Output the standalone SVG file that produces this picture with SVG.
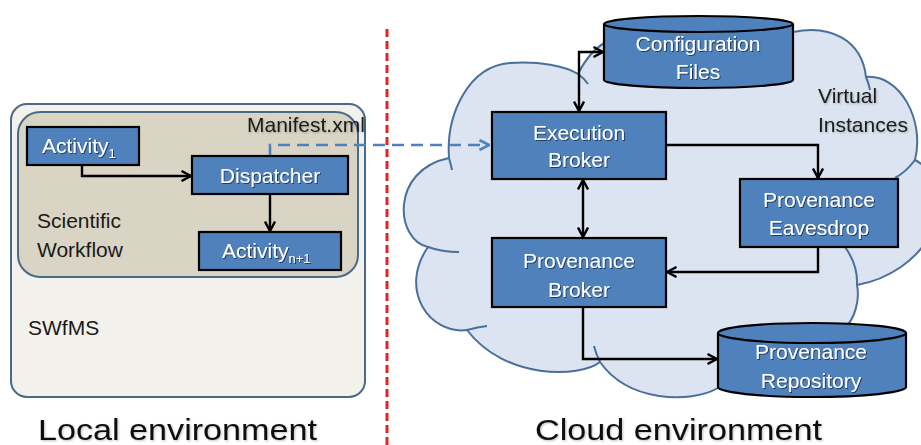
<svg xmlns="http://www.w3.org/2000/svg" width="921" height="445" viewBox="0 0 921 445">
  <defs>
    <style>
      .box { fill: #4f81bd; stroke: #000; stroke-width: 2.2; }
      .cyl { fill: #4f81bd; stroke: #000; stroke-width: 2.2; }
      .wt { font-family: "Liberation Sans", Arial, sans-serif; font-size: 21px; fill: #fff; text-anchor: middle; filter: url(#shadow); }
      .bt { font-family: "Liberation Sans", Arial, sans-serif; font-size: 21px; fill: #1a1a1a; }
      .big { font-family: "Liberation Sans", Arial, sans-serif; font-size: 29px; fill: #111; }
      .conn { fill: none; stroke: #000; stroke-width: 2.4; }
      .dash { fill: none; stroke: #4f81bd; stroke-width: 2.6; stroke-dasharray: 12 7; }
      .cloud-in { fill: none; stroke: #4a6f9b; stroke-width: 2; }
    </style>
    <filter id="shadow" x="-10%" y="-20%" width="130%" height="150%">
      <feDropShadow dx="1" dy="1" stdDeviation="0.7" flood-color="#000" flood-opacity="0.55"/>
    </filter>
    <filter id="soft" x="-10%" y="-20%" width="130%" height="150%">
      <feDropShadow dx="1" dy="1" stdDeviation="0.8" flood-color="#000" flood-opacity="0.25"/>
    </filter>
    <marker id="arr" viewBox="0 0 12 12" refX="11" refY="6" markerWidth="12" markerHeight="12" markerUnits="userSpaceOnUse" orient="auto-start-reverse">
      <path d="M1.5,1 L11,6 L1.5,11" fill="none" stroke="#000" stroke-width="2.4"/>
    </marker>
    <marker id="arrBlue" viewBox="0 0 12 12" refX="11" refY="6" markerWidth="12" markerHeight="12" markerUnits="userSpaceOnUse" orient="auto">
      <path d="M1.5,1 L11,6 L1.5,11" fill="none" stroke="#4f81bd" stroke-width="2.6"/>
    </marker>
  </defs>

  <rect width="921" height="445" fill="#fff"/>

  <!-- cloud hosting the virtual instances -->
  <g id="cloud">
    <path d="M449,158 C446,115 468,66 510,63 C540,61 565,66 578,74 C585,60 595,48 606,42 L793,32 C830,24 862,40 866,77 C900,74 925,120 915,160 C925,165 935,175 935,200 L935,225 C920,262 885,280 857,285 C860,300 855,318 845,328 L718,388 C690,404 628,402 600,362 C580,378 505,380 467,330 C430,335 398,290 428,247 C395,240 390,170 449,158 Z" fill="#dbe4f0" stroke="#4a6f9b" stroke-width="2"/>
    <path class="cloud-in" d="M449,158 Q451,165 452,170"/>
    <path class="cloud-in" d="M578,74 Q584,78 588,84"/>
    <path class="cloud-in" d="M428,247 Q442,252 459,252"/>
    <path class="cloud-in" d="M467,330 Q478,327 487,326"/>
    <path class="cloud-in" d="M600,362 Q596,354 594,346"/>
    <path class="cloud-in" d="M857,285 Q858,265 845,247"/>
    <path class="cloud-in" d="M866,77 Q869,84 870,90"/>
    <path class="cloud-in" d="M915,160 Q906,172 895,178"/>
    <text class="bt" x="818" y="103" filter="url(#soft)">Virtual</text>
    <text class="bt" x="818" y="132" filter="url(#soft)">Instances</text>
  </g>

  <!-- local SWfMS container -->
  <g id="swfms">
    <rect x="11" y="104" width="354" height="293" rx="16" fill="#f3f1ec" stroke="#4a6a8a" stroke-width="2"/>
    <text class="bt" x="28" y="335">SWfMS</text>
  </g>
  <g id="workflow">
    <rect x="18" y="112" width="340" height="165" rx="22" fill="#d9d4c3" stroke="#4a6a8a" stroke-width="2"/>
    <text class="bt" x="37" y="228">Scientific</text>
    <text class="bt" x="37" y="257">Workflow</text>
  </g>

  <!-- environment divider -->
  <line x1="387" y1="29" x2="387" y2="445" stroke="#e0262a" stroke-width="3" stroke-dasharray="8 4"/>

  <!-- connectors -->
  <g id="connectors">
    <path class="conn" d="M82,165 V176 H191" marker-end="url(#arr)"/>
    <path class="conn" d="M270,194 V231" marker-end="url(#arr)"/>
    <path class="dash" d="M270,156 V145 H489" marker-end="url(#arrBlue)"/>
    <path class="conn" d="M579,111 V52 H603" marker-start="url(#arr)" marker-end="url(#arr)"/>
    <path class="conn" d="M666,145 H818 V178" marker-end="url(#arr)"/>
    <path class="conn" d="M583,180 V237" marker-start="url(#arr)" marker-end="url(#arr)"/>
    <path class="conn" d="M818,247 V272 H667" marker-end="url(#arr)"/>
    <path class="conn" d="M583,307 V359 H717" marker-end="url(#arr)"/>
  </g>

  <text class="bt" x="247" y="132" filter="url(#soft)">Manifest.xml</text>

  <g id="activity1">
    <rect class="box" x="27" y="127" width="112" height="38"/>
    <text class="wt" x="42" y="153" style="text-anchor:start">Activity<tspan font-size="13" dy="5">1</tspan></text>
  </g>
  <g id="dispatcher">
    <rect class="box" x="192" y="156" width="156" height="38"/>
    <text class="wt" x="270" y="183">Dispatcher</text>
  </g>
  <g id="activityN1">
    <rect class="box" x="199" y="232" width="142" height="38"/>
    <text class="wt" x="222" y="258" style="text-anchor:start">Activity<tspan font-size="13" dy="5">n+1</tspan></text>
  </g>

  <g id="configFiles">
    <path class="cyl" d="M604,24 V80 A94.5,8 0 0 0 793,80 V24"/>
    <ellipse class="cyl" cx="698.5" cy="24" rx="94.5" ry="8"/>
    <text class="wt" x="698" y="51">Configuration</text>
    <text class="wt" x="698" y="79">Files</text>
  </g>
  <g id="executionBroker">
    <rect class="box" x="492" y="112" width="174" height="67"/>
    <text class="wt" x="579" y="140">Execution</text>
    <text class="wt" x="579" y="167">Broker</text>
  </g>
  <g id="provenanceEavesdrop">
    <rect class="box" x="740" y="179" width="158" height="68"/>
    <text class="wt" x="819" y="207">Provenance</text>
    <text class="wt" x="819" y="235">Eavesdrop</text>
  </g>
  <g id="provenanceBroker">
    <rect class="box" x="492" y="238" width="174" height="69"/>
    <text class="wt" x="579" y="268">Provenance</text>
    <text class="wt" x="579" y="297">Broker</text>
  </g>
  <g id="provenanceRepository">
    <path class="cyl" d="M718,333 V387 A94,10 0 0 0 906,387 V333"/>
    <ellipse class="cyl" cx="812" cy="333" rx="94" ry="10"/>
    <text class="wt" x="811" y="359">Provenance</text>
    <text class="wt" x="811" y="388">Repository</text>
  </g>

  <text class="big" x="38" y="440" textLength="279" lengthAdjust="spacingAndGlyphs" filter="url(#soft)">Local environment</text>
  <text class="big" x="535" y="440" textLength="287" lengthAdjust="spacingAndGlyphs" filter="url(#soft)">Cloud environment</text>
</svg>
